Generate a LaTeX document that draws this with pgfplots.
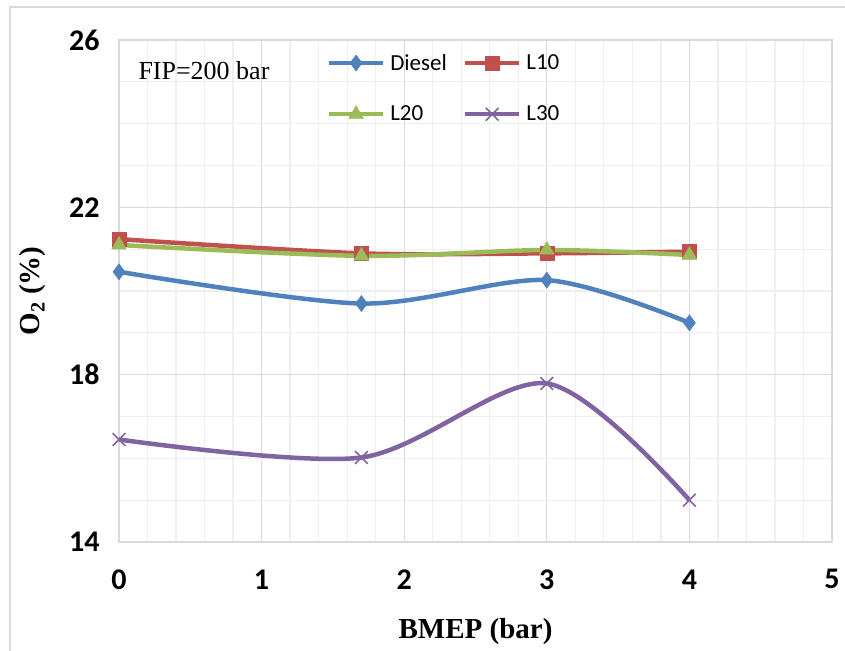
\documentclass[border=0pt]{standalone}
\usepackage{fontspec}
\setmainfont{Liberation Serif}
\newfontfamily\carlito{Carlito}
\usepackage{pgfplots}
\pgfplotsset{compat=1.18}

\definecolor{cDiesel}{HTML}{4F81BD}
\definecolor{cLten}{HTML}{C0504D}
\definecolor{cLtwenty}{HTML}{9BBB59}
\definecolor{cLthirty}{HTML}{8064A2}
\definecolor{majgrid}{HTML}{D9D9D9}
\definecolor{mingrid}{HTML}{EFEFEF}

\begin{document}
\begin{tikzpicture}
\useasboundingbox (0,0) rectangle (845pt,650pt);
\draw[majgrid, line width=1.5pt] (10pt,-20pt) -- (10pt,643pt) -- (870pt,643pt);
\begin{axis}[
    at={(119pt,108pt)}, anchor=south west,
    scale only axis,
    width=713pt, height=502pt,
    xmin=0, xmax=5, ymin=14, ymax=26,
    xtick={0,1,2,3,4,5}, ytick={14,18,22,26},
    minor x tick num=4, minor y tick num=3,
    grid=both,
    major grid style={majgrid, line width=1.3pt},
    minor grid style={mingrid, line width=1.3pt},
    axis line style={majgrid, line width=1.5pt},
    major tick length=0pt, minor tick length=0pt,
    /pgf/number format/assume math mode=true,
    ticklabel style={font=\carlito\bfseries\fontsize{30}{30}\selectfont},
    xticklabel style={yshift=-24pt},
    yticklabel style={xshift=-16pt},
    xlabel={BMEP (bar)},
    ylabel={O\textsubscript{2} (\%)},
    label style={font=\bfseries\fontsize{29}{29}\selectfont},
    xlabel style={at={(axis description cs:0.5,-0.179)}, anchor=center},
    ylabel style={at={(axis description cs:-0.121,0.5)}, anchor=center},
    legend columns=2,
    legend cell align=left,
    legend image code/.code={\draw[mark repeat=2, mark phase=2] plot coordinates {(0pt,0pt) (27pt,0pt) (54pt,0pt)};},
    legend style={at={(0.287,0.976)}, anchor=north west, draw=none, fill=none,
        font=\carlito\fontsize{23}{23}\selectfont,
        nodes={inner xsep=2pt, inner ysep=0pt},
        column sep=3pt, row sep=34pt,
        /tikz/every even column/.append style={column sep=14pt}},
    every axis plot/.append style={line width=4.5pt, smooth, tension=0.5},
]
\addplot[cDiesel, mark=diamond*, mark size=8pt, mark options={solid, line width=0.5pt}] coordinates {
    (0,20.46) (1.7,19.70) (3,20.26) (4,19.24)
};
\addlegendentry{Diesel}
\addplot[cLten, mark=square*, mark size=7pt, mark options={solid, line width=0.5pt}] coordinates {
    (0,21.24) (1.7,20.90) (3,20.90) (4,20.94)
};
\addlegendentry{L10}
\addplot[cLtwenty, mark=triangle*, mark size=8.5pt, mark options={solid, line width=0.5pt}] coordinates {
    (0,21.10) (1.7,20.84) (3,20.98) (4,20.86)
};
\addlegendentry{L20}
\addplot[cLthirty, mark=x, mark size=9pt, mark options={solid, line width=1.6pt}] coordinates {
    (0,16.45) (1.7,16.02) (3,17.79) (4,15.00)
};
\addlegendentry{L30}
\node[anchor=west, font=\fontsize{26}{26}\selectfont] at (axis description cs:0.0224,0.940) {FIP=200 bar};
\end{axis}
\end{tikzpicture}
\end{document}
